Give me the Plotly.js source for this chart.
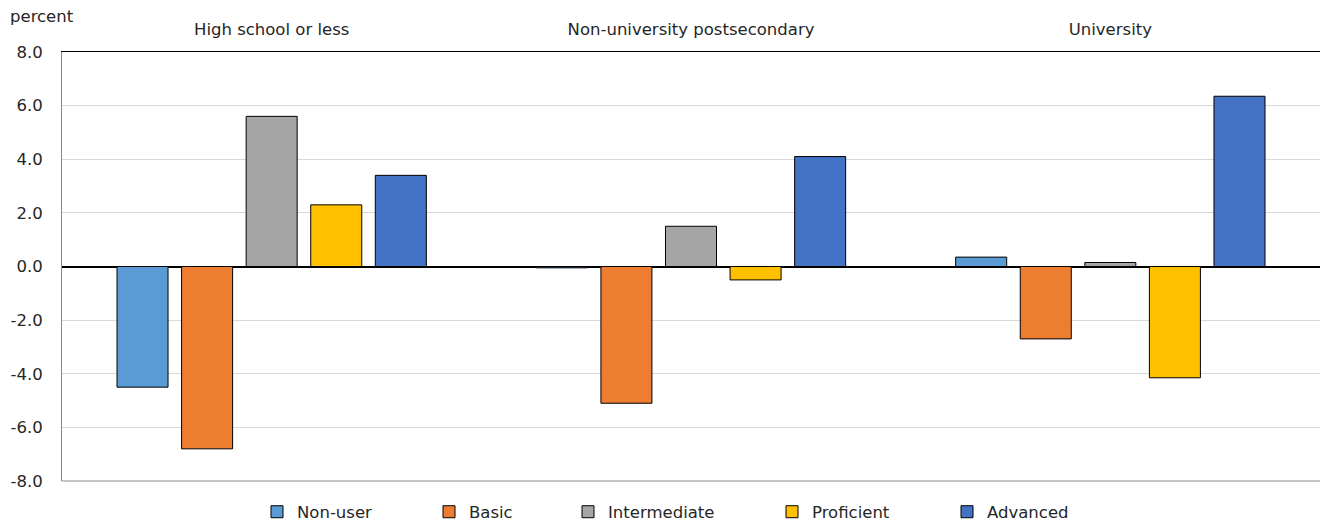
<!DOCTYPE html>
<html>
<head>
<meta charset="utf-8">
<script src="https://cdn.plot.ly/plotly-3.0.1.min.js"></script>
<style>
  html, body { margin: 0; padding: 0; background: #ffffff; }
  #chart { width: 1320px; height: 522px; }
</style>
</head>
<body>
<div id="chart"></div>
<script>
// Education groups along the horizontal axis
const groups = ['High school or less', 'Non-university postsecondary', 'University'];

// Digital skill levels (one bar series each)
const seriesNames = ['Non-user', 'Basic', 'Intermediate', 'Proficient', 'Advanced'];

// Percentage-point values per skill level, ordered like `groups`
const nonUser      = [-4.5, -0.05, 0.35];
const basic        = [-6.8, -5.1, -2.7];
const intermediate = [5.6, 1.5, 0.15];
const proficient   = [2.3, -0.5, -4.15];
const advanced     = [3.4, 4.1, 6.35];

// Vertical axis ticks
const yTicks = [-8, -6, -4, -2, 0, 2, 4, 6, 8];
const yTickText = ['-8.0', '-6.0', '-4.0', '-2.0', '0.0', '2.0', '4.0', '6.0', '8.0'];

const seriesValues = [nonUser, basic, intermediate, proficient, advanced];
const seriesColors = ['#5B9BD5', '#ED7D31', '#A5A5A5', '#FFC000', '#4472C4'];

// Left pixel of each legend entry along the bottom row
const legendLeft = [257, 429, 568, 772, 947];

const W = 1320, H = 522;
const M = { l: 62, r: 0, t: 52, b: 41, autoexpand: false };
const plotW = W - M.l - M.r;
const plotH = H - M.t - M.b;

const legendKeys = ['legend', 'legend2', 'legend3', 'legend4', 'legend5'];

const traces = seriesNames.map((name, i) => ({
  type: 'bar',
  name: name,
  x: groups,
  y: seriesValues[i],
  legend: legendKeys[i],
  marker: { color: seriesColors[i], line: { color: '#000000', width: 1 } },
  hoverinfo: 'x+y+name'
}));

const font = { family: 'DejaVu Sans, Verdana, sans-serif', size: 16.5, color: '#262626' };

const layout = {
  width: W,
  height: H,
  margin: M,
  paper_bgcolor: '#ffffff',
  plot_bgcolor: '#ffffff',
  font: font,
  barmode: 'group',
  bargap: 0.23,
  bargroupgap: 0.21,
  showlegend: true,
  xaxis: {
    type: 'category',
    side: 'top',
    showgrid: false,
    showline: true,
    linecolor: '#000000',
    linewidth: 1,
    ticks: 'outside',
    ticklen: 9,
    tickcolor: 'rgba(0,0,0,0)',
    tickfont: font,
    fixedrange: true
  },
  yaxis: {
    range: [-8, 8],
    tickvals: yTicks,
    ticktext: yTickText,
    showgrid: true,
    gridcolor: '#D9D9D9',
    gridwidth: 1,
    zeroline: true,
    zerolinecolor: '#000000',
    zerolinewidth: 2,
    showline: true,
    linecolor: '#898989',
    linewidth: 1,
    ticks: 'outside',
    ticklen: 15,
    tickcolor: 'rgba(0,0,0,0)',
    tickfont: font,
    fixedrange: true
  },
  shapes: [{
    type: 'line', xref: 'paper', yref: 'paper',
    x0: 0, x1: 1, y0: 0, y1: 0,
    line: { color: '#898989', width: 1 }
  }],
  annotations: [{
    text: 'percent',
    xref: 'paper', yref: 'paper',
    x: (8 - M.l) / plotW, xanchor: 'left',
    y: 1 + (M.t - 17) / plotH, yanchor: 'middle',
    showarrow: false,
    font: font
  }]
};

legendKeys.forEach((key, i) => {
  layout[key] = {
    orientation: 'h',
    x: (legendLeft[i] - M.l) / plotW,
    xanchor: 'left',
    y: (481 - 512) / plotH,
    yanchor: 'middle',
    bgcolor: 'rgba(0,0,0,0)',
    borderwidth: 0,
    itemwidth: 30,
    itemclick: false,
    itemdoubleclick: false,
    font: font
  };
});

Plotly.newPlot('chart', traces, layout, { displayModeBar: false });
</script>
</body>
</html>
